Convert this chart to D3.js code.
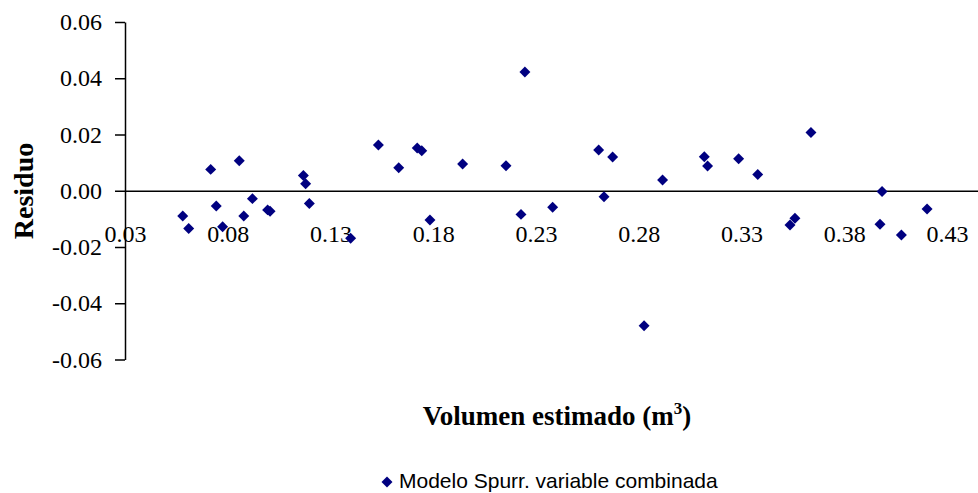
<!DOCTYPE html>
<html>
<head>
<meta charset="utf-8">
<script src="https://cdn.jsdelivr.net/npm/d3@7"></script>
<style>
  body { margin: 0; background: #fff; }
  svg { display: block; }
</style>
</head>
<body>
<div id="chart"></div>
<script>
// volumen estimado (m3) and residuo
const volumen = [
  0.0581, 0.0610, 0.0717, 0.0744, 0.0775, 0.0856, 0.0878, 0.0920, 0.0994, 0.1006,
  0.1168, 0.1179, 0.1197, 0.1398, 0.1533, 0.1632, 0.1722, 0.1744, 0.1784, 0.1943,
  0.2154, 0.2246, 0.2227, 0.2381, 0.2605, 0.2631, 0.2673, 0.2826, 0.2916, 0.3119,
  0.3135, 0.3286, 0.3379, 0.3638, 0.3536, 0.3560, 0.3984, 0.3974, 0.4078, 0.4203
]
const residuo = [
  -0.0090, -0.0134, 0.0076, -0.0054, -0.0128, 0.0107, -0.0090, -0.0028, -0.0068, -0.0073,
  0.0054, 0.0025, -0.0045, -0.0169, 0.0163, 0.0082, 0.0152, 0.0142, -0.0104, 0.0095,
  0.0089, 0.0422, -0.0084, -0.0059, 0.0145, -0.0021, 0.0120, -0.0480, 0.0038, 0.0121,
  0.0088, 0.0114, 0.0058, 0.0207, -0.0122, -0.0098, -0.0003, -0.0119, -0.0157, -0.0065
]
const xTicks = [0.03, 0.08, 0.13, 0.18, 0.23, 0.28, 0.33, 0.38, 0.43]
const yTicks = [-0.06, -0.04, -0.02, 0.00, 0.02, 0.04, 0.06]
const seriesName = 'Modelo Spurr. variable combinada'

const width = 978
const height = 493
const serif = '"Liberation Serif", "Times New Roman", serif'
const sans = '"Liberation Sans", Arial, sans-serif'
const navy = '#000080'

const svg = d3.select('#chart')
  .append('svg')
  .attr('width', width)
  .attr('height', height)

const xScale = d3.scaleLinear()
  .domain([0.03, 0.48])
  .range([125, 1049.75])

const yScale = d3.scaleLinear()
  .domain([-0.06, 0.06])
  .range([359.5, 22])

const points = volumen.map((v, i) => ({ x: v, y: residuo[i] }))

// y axis
const yAxis = svg.append('g')
  .attr('transform', `translate(${xScale(0.03)},0)`)
  .call(d3.axisLeft(yScale)
    .tickValues(yTicks)
    .tickFormat(d => d.toFixed(2))
    .tickSize(10)
    .tickSizeOuter(0)
    .tickPadding(13))
yAxis.selectAll('text')
  .attr('font-family', serif)
  .attr('font-size', 24)
  .attr('fill', '#000')
yAxis.selectAll('line, path').attr('stroke', '#000').attr('stroke-width', 1.5)

// x axis at residuo = 0, labels pushed down
const xAxis = svg.append('g')
  .attr('transform', `translate(0,${yScale(0)})`)
  .call(d3.axisBottom(xScale)
    .tickValues(xTicks)
    .tickFormat(d => d.toFixed(2))
    .tickSize(0)
    .tickSizeOuter(0)
    .tickPadding(34))
xAxis.selectAll('text')
  .attr('font-family', serif)
  .attr('font-size', 24)
  .attr('fill', '#000')
xAxis.select('.domain').attr('stroke', '#000').attr('stroke-width', 1.5)

// markers
const diamond = d3.symbol().type(d3.symbolSquare).size(60)
svg.append('g')
  .selectAll('path')
  .data(points)
  .enter()
  .append('path')
  .attr('d', diamond)
  .attr('transform', d => `translate(${xScale(d.x)},${yScale(d.y)}) rotate(45)`)
  .attr('fill', navy)

// axis titles
svg.append('text')
  .attr('transform', 'translate(33,191) rotate(-90)')
  .attr('text-anchor', 'middle')
  .attr('font-family', serif)
  .attr('font-weight', 'bold')
  .attr('font-size', 28)
  .text('Residuo')

const xTitle = svg.append('text')
  .attr('x', 557)
  .attr('y', 425)
  .attr('text-anchor', 'middle')
  .attr('font-family', serif)
  .attr('font-weight', 'bold')
  .attr('font-size', 27)
xTitle.append('tspan').text('Volumen estimado (m')
xTitle.append('tspan').attr('dy', -11).attr('font-size', 17).text('3')
xTitle.append('tspan').attr('dy', 11).text(')')

// legend
const legend = svg.append('g').attr('transform', 'translate(387,482)')
legend.append('path')
  .attr('d', diamond)
  .attr('transform', 'rotate(45)')
  .attr('fill', navy)
legend.append('text')
  .attr('x', 12)
  .attr('y', 6)
  .attr('font-family', sans)
  .attr('font-size', 21)
  .attr('fill', '#000')
  .text(seriesName)
</script>
</body>
</html>
